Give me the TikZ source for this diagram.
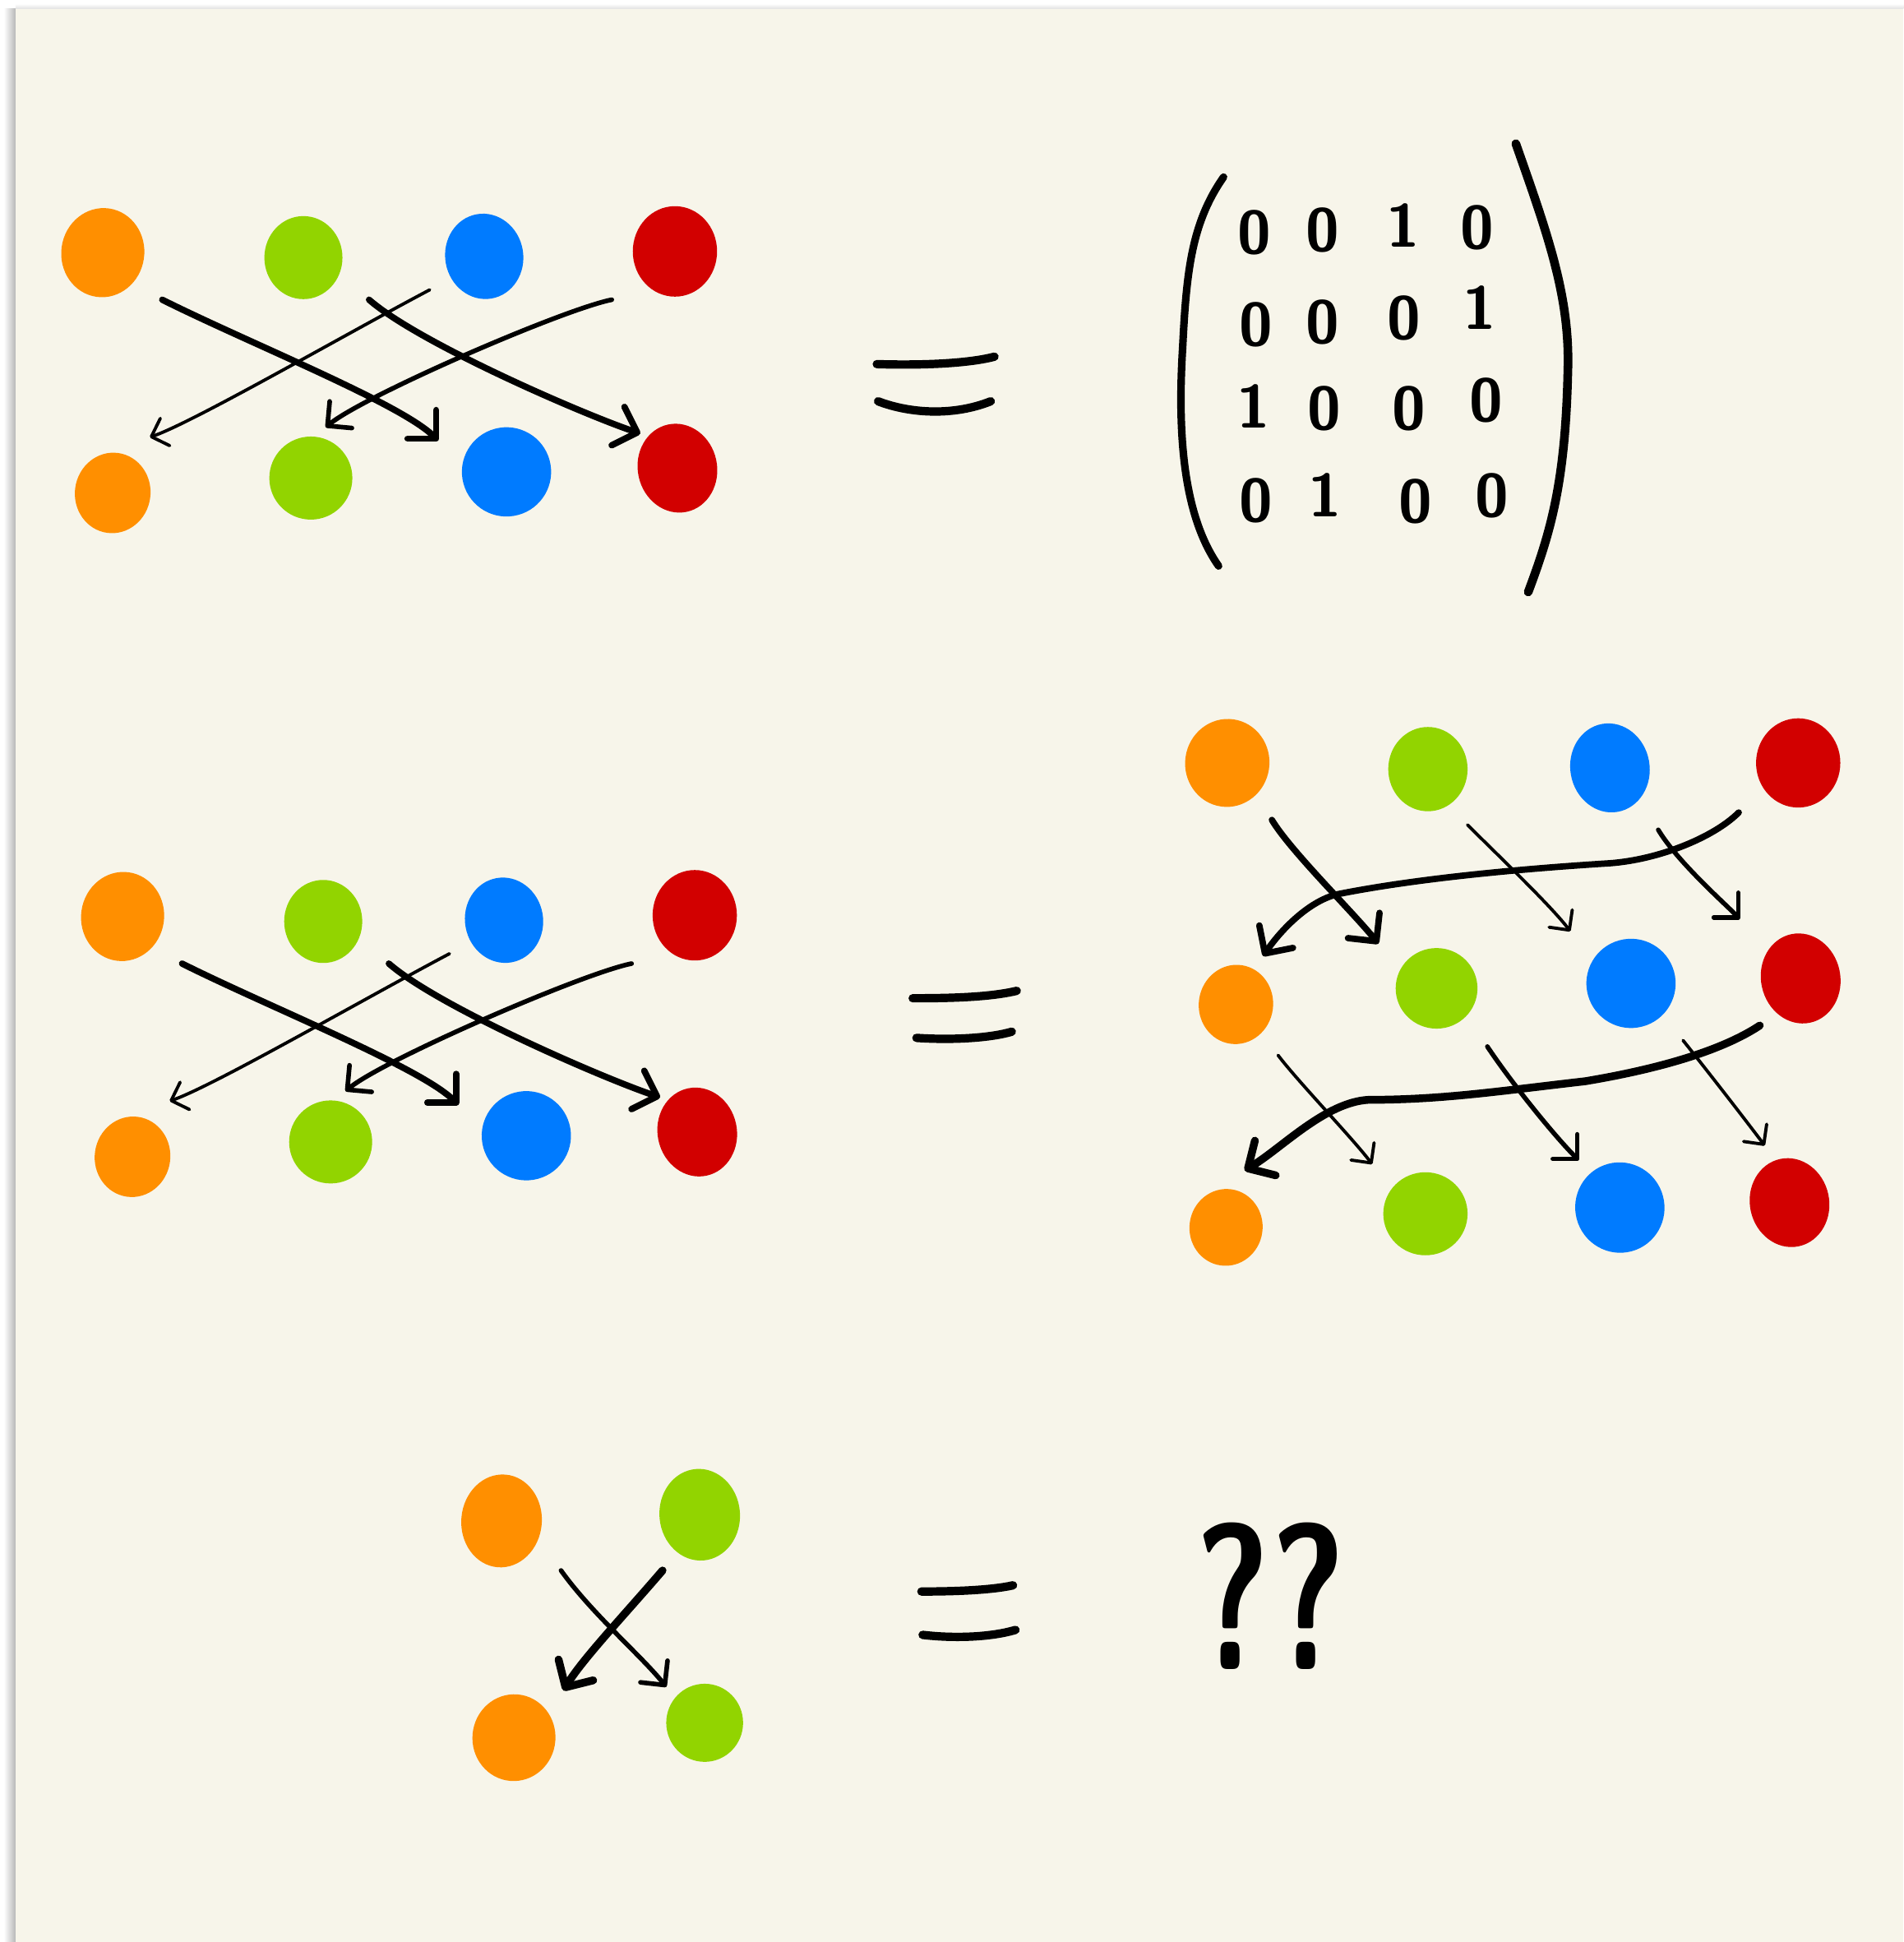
\documentclass[tikz,border=0pt]{standalone}
\usetikzlibrary{arrows.meta,shapes.geometric}
\definecolor{paper}{RGB}{247,245,234}
\definecolor{corange}{RGB}{255,143,0}
\definecolor{cgreen}{RGB}{146,212,0}
\definecolor{cblue}{RGB}{0,123,255}
\definecolor{cred}{RGB}{210,0,0}
\definecolor{ink}{RGB}{0,0,0}
\tikzset{
  blob/.style={ellipse, inner sep=0pt, draw=none},
  sz/.style 2 args={minimum width={#1*0.15068mm}, minimum height={#2*0.15068mm}},
  ob/.style={blob, fill=corange},
  gb/.style={blob, fill=cgreen},
  bb/.style={blob, fill=cblue},
  rb/.style={blob, fill=cred},
  barb/.style={-{Straight Barb[length=#1, width={2*#1}, round]}},
  thinarrow/.style={draw=ink, line width=1.1pt, line cap=round, barb=5pt},
  midarrow/.style={draw=ink, line width=1.6pt, line cap=round, barb=6pt},
  thickarrow/.style={draw=ink, line width=2.2pt, line cap=round, barb=7pt},
  eqstroke/.style={draw=ink, line width=2.9pt, line cap=round},
  parenstroke/.style={draw=ink, line width=2.6pt, line cap=round},
  digit/.style={font=\sffamily\bfseries\fontsize{21}{24}\selectfont, inner sep=0pt, text=ink},
  qmark/.style={font=\sffamily\bfseries\fontsize{72}{80}\selectfont, inner sep=0pt, xscale=0.7, text=ink},
}
\newcommand\permblock[3]{%
\begin{scope}[shift={(#2,#3)}]
  \node[ob,sz={67}{72},rotate=-8] (#1ot) at (83,204) {};
  \node[gb,sz={63}{67}] (#1gt) at (245,208) {};
  \node[bb,sz={63}{69},rotate=10] (#1bt) at (391,207) {};
  \node[rb,sz={68}{73}] (#1rt) at (545,203) {};
  \node[ob,sz={61}{65},rotate=-8] (#1ob) at (91,398) {};
  \node[gb,sz={67}{67}] (#1gb) at (251,386) {};
  \node[bb,sz={72}{72},rotate=15] (#1bb) at (409,381) {};
  \node[rb,sz={64}{72},rotate=12] (#1rb) at (547,378) {};
  \coordinate (#1s1) at (131,242); \coordinate (#1e1) at (354,356);
  \coordinate (#1s2) at (298,242); \coordinate (#1e2) at (517,350);
  \coordinate (#1s3) at (347,234); \coordinate (#1e3) at (121,353);
  \coordinate (#1s4) at (494,242); \coordinate (#1e4) at (263,345);
\end{scope}
\draw[thickarrow] (#1s1) .. controls +(70,35) and +(-30,-30) .. (#1e1);
\draw[thickarrow] (#1s2) .. controls +(40,35) and +(-45,-15) .. (#1e2);
\draw[thinarrow] (#1s3) .. controls +(-70,37) and +(35,-12) .. (#1e3);
\draw[midarrow] (#1s4) .. controls +(-40,8) and +(30,-25) .. (#1e4);
}
\begin{document}
\begin{tikzpicture}[x=0.015068cm,y=-0.015068cm]
\useasboundingbox (0,0) rectangle (1537,1568);
\fill[white] (0,0) rectangle (1537,1568);
\shade[left color=white, right color=black!28] (3,7.3) rectangle (12.6,1568);
\shade[top color=white, bottom color=black!12] (12.6,3) rectangle (1537,7.3);
\fill[paper] (12.6,7.3) rectangle (1537,1568);

% ---------- section 1 ----------
\permblock{A}{0}{0}
\draw[eqstroke] (708,294) .. controls (740,295) and (780,294) .. (803,288);
\draw[eqstroke] (709,324) .. controls (735,334) and (770,336) .. (800,324);
% matrix
\draw[parenstroke] (988,143) .. controls (962,180) and (958,220) .. (955,280)
  .. controls (950,360) and (958,420) .. (984,457);
\draw[parenstroke, line width=3pt] (1224,116) .. controls (1250,190) and (1268,240) .. (1266,300)
  .. controls (1264,390) and (1252,430) .. (1234,478);
\node[digit] (m11) at (1013,188) {0};
\node[digit] (m12) at (1068,186) {0};
\node[digit] (m13) at (1133,182) {1};
\node[digit] (m14) at (1193,184) {0};
\node[digit] (m21) at (1014,262) {0};
\node[digit] (m22) at (1068,260) {0};
\node[digit] (m23) at (1134,257) {0};
\node[digit] (m24) at (1195,248) {1};
\node[digit] (m31) at (1012,328) {1};
\node[digit] (m32) at (1069,330) {0};
\node[digit] (m33) at (1138,330) {0};
\node[digit] (m34) at (1200,323) {0};
\node[digit] (m41) at (1014,404) {0};
\node[digit] (m42) at (1070,400) {1};
\node[digit] (m43) at (1143,405) {0};
\node[digit] (m44) at (1205,400) {0};

% ---------- section 2 ----------
\permblock{B}{16}{536}
\draw[eqstroke] (737,806) .. controls (770,806) and (800,805) .. (821,800);
\draw[eqstroke] (740,838) .. controls (770,840) and (800,838) .. (817,833);

\node[ob,sz={68}{71},rotate=-8] (C1o) at (991,616) {};
\node[gb,sz={64}{68}] (C1g) at (1153,621) {};
\node[bb,sz={64}{72},rotate=10] (C1b) at (1300,620) {};
\node[rb,sz={68}{72}] (C1r) at (1452,616) {};
\node[ob,sz={60}{64},rotate=-8] (C2o) at (998,811) {};
\node[gb,sz={66}{65}] (C2g) at (1160,798) {};
\node[bb,sz={72}{72},rotate=15] (C2b) at (1317,794) {};
\node[rb,sz={64}{73},rotate=12] (C2r) at (1454,790) {};
\node[ob,sz={59}{62},rotate=-8] (C3o) at (990,991) {};
\node[gb,sz={68}{67}] (C3g) at (1151,980) {};
\node[bb,sz={72}{73},rotate=15] (C3b) at (1308,975) {};
\node[rb,sz={64}{72},rotate=12] (C3r) at (1445,971) {};

\coordinate (r1as) at (1027,662); \coordinate (r1ae) at (1113,762);
\coordinate (r1bs) at (1185,666); \coordinate (r1be) at (1268,752);
\coordinate (r1cs) at (1339,670); \coordinate (r1ce) at (1405,742);
\coordinate (r1ds) at (1404,656); \coordinate (r1de) at (1020,772);
\coordinate (r2as) at (1032,852); \coordinate (r2ae) at (1108,940);
\coordinate (r2bs) at (1201,845); \coordinate (r2be) at (1275,937);
\coordinate (r2cs) at (1359,840); \coordinate (r2ce) at (1425,925);
\coordinate (r2ds) at (1421,828); \coordinate (r2de) at (1005,945);

\draw[thickarrow] (r1as) .. controls +(15,25) and +(-20,-25) .. (r1ae);
\draw[thinarrow] (r1bs) .. controls +(25,25) and +(-15,-20) .. (r1be);
\draw[midarrow] (r1cs) .. controls +(15,25) and +(-15,-15) .. (r1ce);
\draw[thickarrow] (r1ds) .. controls +(-20,20) and +(40,-3) .. (1300,697)
  .. controls +(-80,5) and +(60,-12) .. (1080,722)
  .. controls +(-25,6) and +(12,-18) .. (r1de);
\draw[thinarrow] (r2as) .. controls +(15,20) and +(-15,-20) .. (r2ae);
\draw[midarrow] (r2bs) .. controls +(20,30) and +(-20,-20) .. (r2be);
\draw[thinarrow] (r2cs) .. controls +(20,25) and +(-15,-20) .. (r2ce);
\draw[thickarrow, line width=2.7pt] (r2ds) .. controls +(-30,20) and +(60,-10) .. (1280,873)
  .. controls +(-70,8) and +(60,0) .. (1105,888)
  .. controls +(-35,2) and +(30,-18) .. (r2de);

% ---------- section 3 ----------
\node[ob,sz={65}{75},rotate=-5] (D1o) at (405,1228) {};
\node[gb,sz={65}{74},rotate=5] (D1g) at (565,1223) {};
\node[ob,sz={67}{70},rotate=-5] (D2o) at (415,1403) {};
\node[gb,sz={62}{63}] (D2g) at (569,1391) {};
\coordinate (x1s) at (453,1268); \coordinate (x1e) at (538,1362);
\coordinate (x2s) at (535,1268); \coordinate (x2e) at (455,1365);
\draw[midarrow] (x1s) .. controls +(25,35) and +(-20,-25) .. (x1e);
\draw[thickarrow, line width=2.7pt] (x2s) .. controls +(-30,35) and +(15,-25) .. (x2e);
\draw[eqstroke] (744,1285) .. controls (770,1285) and (800,1284) .. (818,1280);
\draw[eqstroke] (745,1320) .. controls (770,1323) and (800,1322) .. (820,1316);
\node[qmark] (qq) at (1026,1289) {??};
\end{tikzpicture}
\end{document}
